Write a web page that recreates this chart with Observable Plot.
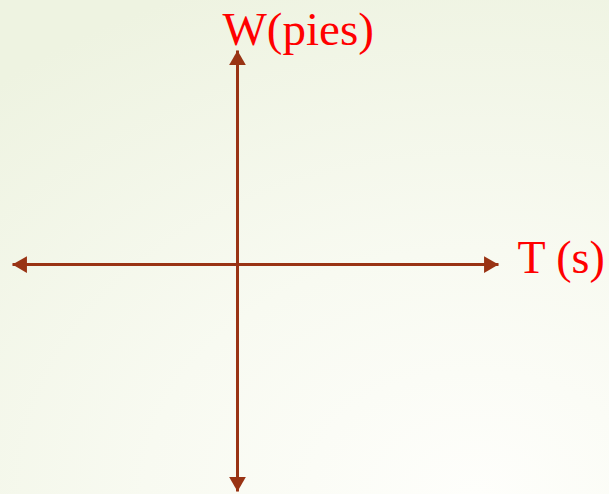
<!DOCTYPE html>
<html>
<head>
<meta charset="utf-8">
<script src="https://cdn.jsdelivr.net/npm/d3@7"></script>
<script src="https://cdn.jsdelivr.net/npm/@observablehq/plot@0.6"></script>
<style>
  html, body { margin: 0; padding: 0; }
  body { width: 609px; height: 494px; overflow: hidden;
    background: radial-gradient(ellipse 120% 110% at 78% 100%, #fefefb 0%, #f8faf1 45%, #eef3e1 100%); }
  svg text.lbl { font-family: "Liberation Serif", "Times New Roman", "DejaVu Serif", serif !important; }
</style>
</head>
<body>
<div id="chart"></div>
<script>
// Horizontal axis T (s): left end, right end (abstract units, origin at 0)
const tAxis = [-1, 1.16];
// Vertical axis W (pies): bottom end, top end
const wAxis = [-1.06, 1];
// Axis labels
const axisLabels = ["W(pies)", "T (s)"];

const axisColor = "#993314";
const serif = "'Liberation Serif', 'Times New Roman', serif";

const hLine = [{x1: tAxis[0], y1: 0, x2: tAxis[1], y2: 0}];
const vLine = [{x1: 0, y1: wAxis[0], x2: 0, y2: wAxis[1]}];

const heads = [
  {x: tAxis[1], y: 0, rotate: 90, dx: -9.6, dy: 0},
  {x: tAxis[0], y: 0, rotate: 270, dx: 9.6, dy: 0},
  {x: 0, y: wAxis[1], rotate: 0, dx: 0, dy: 9.6},
  {x: 0, y: wAxis[0], rotate: 180, dx: 0, dy: -9.6}
];

const chart = Plot.plot({
  width: 609,
  height: 494,
  marginTop: 0, marginBottom: 0, marginLeft: 0, marginRight: 0,
  style: {background: "transparent", overflow: "visible", fontFamily: serif},
  x: {domain: tAxis, range: [12, 498], axis: null},
  y: {domain: wAxis, range: [491, 50], axis: null},
  marks: [
    Plot.link(hLine, {x1: "x1", y1: "y1", x2: "x2", y2: "y2", stroke: axisColor, strokeWidth: 3}),
    Plot.link(vLine, {x1: "x1", y1: "y1", x2: "x2", y2: "y2", stroke: axisColor, strokeWidth: 3}),
    ...heads.map(h => Plot.dot([h], {x: "x", y: "y", symbol: "triangle", r: 6.2, rotate: h.rotate,
      dx: h.dx, dy: h.dy, fill: axisColor, stroke: "none"})),
    Plot.text([axisLabels[0]], {x: () => 0, y: () => wAxis[1], text: d => d, textAnchor: "start",
      dx: -15, dy: -21, fill: "#ff0000", fontSize: 47, fontFamily: serif, className: "lbl"}),
    Plot.text([axisLabels[1]], {x: () => tAxis[1], y: () => 0, text: d => d, textAnchor: "start",
      dx: 19, dy: -6, fill: "#ff0000", fontSize: 46, fontFamily: serif, className: "lbl"})
  ]
});
chart.querySelectorAll("text").forEach(t => t.classList.add("lbl"));
document.getElementById("chart").appendChild(chart);
</script>
</body>
</html>
